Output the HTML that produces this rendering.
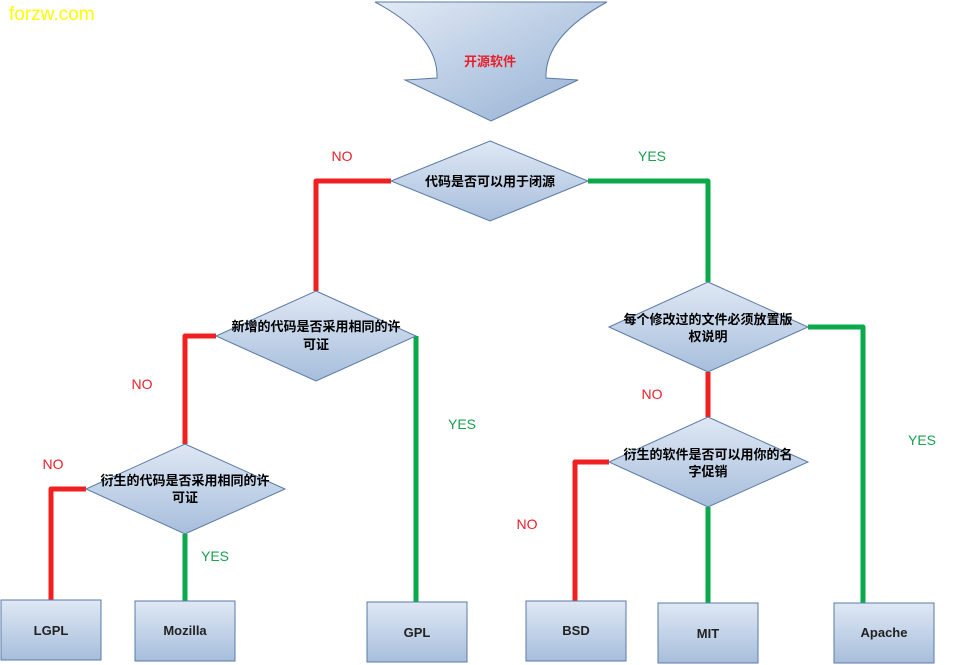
<!DOCTYPE html>
<html><head><meta charset="utf-8"><style>
body{margin:0;background:#fff;}
svg{display:block;}
.t{font-family:"Liberation Sans","Noto Sans CJK SC",sans-serif;font-weight:bold;font-size:13px;fill:#000;text-anchor:middle;}
.b{font-family:"Liberation Sans",sans-serif;font-weight:bold;font-size:13px;fill:#222;text-anchor:middle;}
.no{font-family:"Liberation Sans",sans-serif;font-size:14px;fill:#e8202a;text-anchor:middle;}
.yes{font-family:"Liberation Sans",sans-serif;font-size:14px;fill:#1aa050;text-anchor:middle;}
</style></head><body>
<svg width="954" height="665" viewBox="0 0 954 665" xmlns="http://www.w3.org/2000/svg">
<defs>
<linearGradient id="g" x1="0" y1="0" x2="0" y2="1"><stop offset="0" stop-color="#dfe8f4"/><stop offset="1" stop-color="#a7bedc"/></linearGradient>
<linearGradient id="g2" x1="0" y1="0" x2="1" y2="1"><stop offset="0" stop-color="#e2eaf5"/><stop offset="1" stop-color="#92afd3"/></linearGradient>
</defs>
<text x="9" y="20" style="font-family:'Liberation Sans',sans-serif;font-size:19px;fill:#ffff00">forzw.com</text>
<g fill="none" stroke-width="5" stroke-linejoin="round">
<path d="M391 181H316V291" stroke="#f02020"/>
<path d="M216 336H185V444" stroke="#f02020"/>
<path d="M86 489H51V600" stroke="#f02020"/>
<path d="M708 372V417" stroke="#f02020"/>
<path d="M609 462H575V601" stroke="#f02020"/>
<path d="M588 181H708V282" stroke="#0aaa4a"/>
<path d="M416 336V602" stroke="#0aaa4a"/>
<path d="M185 534V601" stroke="#0aaa4a"/>
<path d="M808 327H863V603" stroke="#0aaa4a"/>
<path d="M708 507V603" stroke="#0aaa4a"/>
</g>
<g stroke="#5a7aa5" stroke-width="1" fill="url(#g)">
<path d="M375 2H607C565 25 545 50 546 78L578 80L491 121L405 80L437 78C438 50 418 25 375 2Z" fill="url(#g2)"/>
<path d="M490 141L588 181L490 221L391 181Z"/>
<path d="M316 291L416 336L316 381L216 336Z"/>
<path d="M185 444L285 489L185 534L86 489Z"/>
<path d="M708 282L808 327L708 372L609 327Z"/>
<path d="M708 417L808 462L708 507L609 462Z"/>
<rect x="1" y="600" width="100" height="60"/>
<rect x="135" y="601" width="100" height="60"/>
<rect x="367" y="602" width="100" height="60"/>
<rect x="526" y="601" width="100" height="60"/>
<rect x="658" y="603" width="100" height="60"/>
<rect x="834" y="603" width="100" height="60"/>
</g>
<text x="490" y="66" class="t" style="fill:#e8202a">开源软件</text>
<text x="490" y="186" class="t">代码是否可以用于闭源</text>
<text x="316" y="331" class="t">新增的代码是否采用相同的许</text>
<text x="316" y="349" class="t">可证</text>
<text x="185" y="485" class="t">衍生的代码是否采用相同的许</text>
<text x="185" y="502" class="t">可证</text>
<text x="708" y="324" class="t">每个修改过的文件必须放置版</text>
<text x="708" y="341" class="t">权说明</text>
<text x="708" y="459" class="t">衍生的软件是否可以用你的名</text>
<text x="708" y="476" class="t">字促销</text>
<text x="51" y="635" class="b">LGPL</text>
<text x="185" y="635" class="b">Mozilla</text>
<text x="417" y="637" class="b">GPL</text>
<text x="576" y="635" class="b">BSD</text>
<text x="708" y="638" class="b">MIT</text>
<text x="884" y="637" class="b">Apache</text>
<text x="342" y="161" class="no">NO</text>
<text x="652" y="161" class="yes">YES</text>
<text x="142" y="389" class="no">NO</text>
<text x="462" y="429" class="yes">YES</text>
<text x="53" y="469" class="no">NO</text>
<text x="215" y="561" class="yes">YES</text>
<text x="652" y="399" class="no">NO</text>
<text x="922" y="445" class="yes">YES</text>
<text x="527" y="529" class="no">NO</text>
</svg>
</body></html>
